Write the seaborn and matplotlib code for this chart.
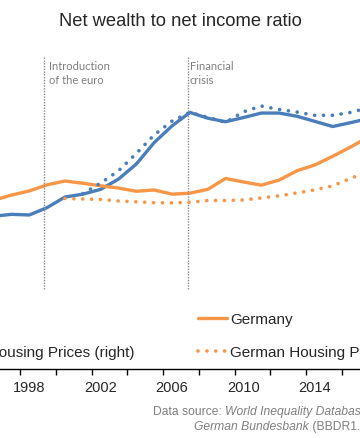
"""
plot.py
Net wealth to net income ratio with housing prices on a second axis.
"""

import matplotlib
matplotlib.use('Agg')
import matplotlib.pyplot as plt
import seaborn as sns

# ---- data ----
years         = list(range(1996, 2018))
france_ratio  = [4.75, 4.81, 4.79, 5.02, 5.35, 5.44, 5.59, 5.91, 6.38, 7.05, 7.57,
                 7.99, 7.81, 7.70, 7.83, 7.97, 7.97, 7.87, 7.71, 7.55, 7.67, 7.80]
germany_ratio = [5.25, 5.41, 5.54, 5.73, 5.85, 5.78, 5.70, 5.63, 5.53, 5.57, 5.44,
                 5.47, 5.59, 5.93, 5.82, 5.72, 5.88, 6.17, 6.35, 6.62, 6.91, 7.22]

fr_house_years = list(range(2001, 2018))
french_housing = [103.7, 109.9, 117.2, 127.5, 138.5, 146.7, 151.8, 148.9, 145.9,
                  152.2, 155.6, 153.6, 152.0, 150.1, 150.1, 151.8, 154.6]
de_house_years = list(range(2000, 2018))
german_housing = [100.8, 100.5, 100.2, 99.3, 98.8, 98.3, 98.2, 98.5, 99.6, 99.6,
                  99.9, 101.1, 102.4, 104.1, 105.9, 108.3, 112.7, 116.8]

label_years = [1998, 2002, 2006, 2010, 2014]
tick_years  = [1997.5 + 2 * i for i in range(10)]
events      = [(1998.8, 'Introduction', 'of the euro'), (2006.9, 'Financial', 'crisis')]

BLUE   = '#4a7ebb'
ORANGE = '#f79646'
GREY   = '#7f7f7f'
W, H   = 360, 439


def fx(px):
    return px / W


def fy(py):
    return 1 - py / H


sns.set_style('white')
plt.rcParams['font.family'] = ['Liberation Sans', 'DejaVu Sans']

fig = plt.figure(figsize=(W / 100, H / 100), dpi=100)
ax = fig.add_axes([0, fy(369.5), 1, 320.5 / H])
ax2 = ax.twinx()

dots = (0, (0.01, 2.4))
sns.lineplot(x=years, y=france_ratio, ax=ax, color=BLUE, linewidth=2.4,
             label='France', legend=False)
sns.lineplot(x=years, y=germany_ratio, ax=ax, color=ORANGE, linewidth=2.4,
             label='Germany', legend=False)
sns.lineplot(x=fr_house_years, y=french_housing, ax=ax2, color=BLUE, linewidth=2.65,
             linestyle=dots, dash_capstyle='round',
             label='French Housing Prices (right)', legend=False)
sns.lineplot(x=de_house_years, y=german_housing, ax=ax2, color=ORANGE, linewidth=2.65,
             linestyle=dots, dash_capstyle='round',
             label='German Housing Prices (right)', legend=False)
for a in (ax, ax2):
    if a.get_legend():
        a.get_legend().remove()

# event markers
for yr, line1, line2 in events:
    ax.vlines(yr, 2.47, 9.72, colors='#8c8c8c', linewidth=1, linestyles=(0, (1, 1)))

ev_kw = dict(family='Lato', fontsize=8, color=GREY, va='baseline')
fig.text(fx(49), fy(69.5), events[0][1], **ev_kw)
fig.text(fx(49), fy(84.5), events[0][2], **ev_kw)
fig.text(fx(190), fy(69.5), events[1][1], **ev_kw)
fig.text(fx(190), fy(84.5), events[1][2], **ev_kw)

# axes styling
for a in (ax, ax2):
    for s in ('left', 'right', 'top'):
        a.spines[s].set_visible(False)
    a.set_yticks([])
    a.set_ylabel('')
ax2.spines['bottom'].set_visible(False)
ax.spines['bottom'].set_color('black')
ax.spines['bottom'].set_linewidth(1)

ax.set_xticks(label_years)
ax.set_xticklabels([str(y) for y in label_years])
ax.set_xticks(tick_years, minor=True)
ax.tick_params(axis='x', which='major', length=0, labelsize=10.5, pad=8, bottom=True)
ax.tick_params(axis='x', which='minor', length=4, width=1, color='black',
               direction='out', bottom=True)
# limits last: set_xticks widens the view
ax.set_xlim(1996.36, 2016.53)
ax.set_ylim(0, 10)
ax2.set_ylim(0, 190)

# title
fig.text(fx(180.5), fy(26), 'Net wealth to net income ratio', fontsize=13.2,
         ha='center', va='baseline')

# legends
h1, l1 = ax.get_legend_handles_labels()
h2, l2 = ax2.get_legend_handles_labels()
leg_kw = dict(frameon=False, fontsize=11, borderpad=0, borderaxespad=0,
              handlelength=1.9, handletextpad=0.2, labelspacing=1.25,
              bbox_transform=fig.transFigure)
fig.legend([h1[0], h2[0]], [l1[0], l2[0]], loc='upper right',
           bbox_to_anchor=(fx(134.5), fy(313)), **leg_kw)
fig.legend([h1[1], h2[1]], [l1[1], l2[1]], loc='upper left',
           bbox_to_anchor=(fx(198), fy(313)), **leg_kw)

# source
src_kw = dict(fontsize=8.7, color=GREY, va='baseline')
t1 = fig.text(fx(152.7), fy(414.7), 'Data source: ', **src_kw)
ax.annotate('World Inequality Database (WID.world),', xy=(1, 0), xycoords=t1,
            va='bottom', ha='left', style='italic', fontsize=8.7, color=GREY,
            annotation_clip=False)
t2 = fig.text(fx(194), fy(429.7), 'German Bundesbank', style='italic', **src_kw)
ax.annotate(' (BBDR1.A.DE.N.HPI)', xy=(1, 0), xycoords=t2, va='bottom', ha='left',
            fontsize=8.7, color=GREY, annotation_clip=False)

fig.savefig('out.png', dpi=100)
